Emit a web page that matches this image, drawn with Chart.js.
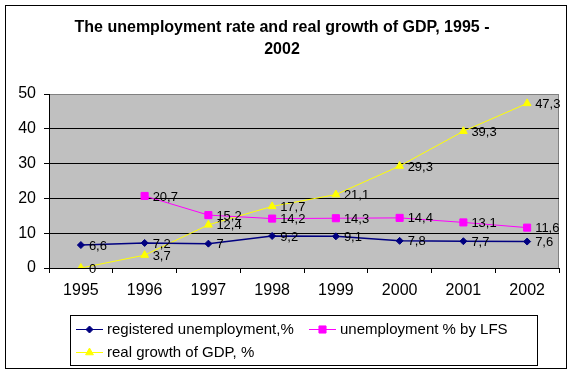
<!DOCTYPE html>
<html>
<head>
<meta charset="utf-8">
<script src="https://cdn.jsdelivr.net/npm/chart.js@4.4.1/dist/chart.umd.min.js"></script>
<style>
  html, body { margin: 0; padding: 0; background: #fff; }
  #wrap { width: 575px; height: 375px; }
</style>
</head>
<body>
<div id="wrap"><canvas id="chart" width="575" height="375"></canvas></div>
<script>
const years = ['1995', '1996', '1997', '1998', '1999', '2000', '2001', '2002'];
const registered = [6.6, 7.2, 7, 9.2, 9.1, 7.8, 7.7, 7.6];
const lfs = [null, 20.7, 15.2, 14.2, 14.3, 14.4, 13.1, 11.6];
const gdp = [0, 3.7, 12.4, 17.7, 21.1, 29.3, 39.3, 47.3];
const seriesNames = ['registered unemployment,%', 'unemployment % by LFS', 'real growth of GDP, %'];
const titleLines = ['The unemployment rate and real growth of GDP, 1995 -', '2002'];

const FONT = 'Arial, "Liberation Sans", sans-serif';
Chart.defaults.font.family = FONT;
Chart.defaults.color = '#000';

// grey plot area + outer frame, Excel style
const framePlugin = {
  id: 'frame',
  beforeDraw(chart) {
    const { ctx, chartArea: a } = chart;
    ctx.save();
    ctx.fillStyle = '#fff';
    ctx.fillRect(0, 0, chart.width, chart.height);
    ctx.strokeStyle = '#000';
    ctx.lineWidth = 1;
    ctx.strokeRect(5.5, 5.5, 561, 363);
    ctx.fillStyle = '#c0c0c0';
    ctx.fillRect(a.left, a.top, a.right - a.left, a.bottom - a.top);
    ctx.strokeStyle = '#808080';
    ctx.strokeRect(a.left + 0.5, a.top + 0.5, a.right - a.left - 1, a.bottom - a.top);
    ctx.restore();
  }
};

// value labels to the right of each point, comma decimals
const valueLabels = {
  id: 'valueLabels',
  afterDatasetsDraw(chart) {
    const ctx = chart.ctx;
    ctx.save();
    ctx.font = '13px ' + FONT;
    ctx.fillStyle = '#000';
    ctx.textAlign = 'left';
    ctx.textBaseline = 'middle';
    chart.data.datasets.forEach((ds, i) => {
      const meta = chart.getDatasetMeta(i);
      meta.data.forEach((pt, j) => {
        const v = ds.data[j];
        if (v === null || v === undefined) return;
        ctx.fillText(String(v).replace('.', ','), pt.x + 8, pt.y + 1);
      });
    });
    ctx.restore();
  }
};

// boxed legend under the axis: two items on row one, one on row two
const legendBox = {
  id: 'legendBox',
  afterDraw(chart) {
    const ctx = chart.ctx;
    const slots = [[76, 329], [309, 329], [76, 352]];
    ctx.save();
    ctx.strokeStyle = '#000';
    ctx.lineWidth = 1;
    ctx.strokeRect(70.5, 315.5, 467, 50);
    ctx.font = '15px ' + FONT;
    ctx.textBaseline = 'middle';
    chart.data.datasets.forEach((ds, i) => {
      const [x, y] = slots[i];
      ctx.strokeStyle = ds.borderColor;
      ctx.fillStyle = ds.backgroundColor;
      ctx.lineWidth = 1;
      ctx.beginPath();
      ctx.moveTo(x, y + 0.5);
      ctx.lineTo(x + 27, y + 0.5);
      ctx.stroke();
      Chart.helpers.drawPoint(ctx, {
        pointStyle: ds.pointStyle,
        radius: ds.pointRadius,
        rotation: 0,
        borderWidth: 1
      }, x + 13.5, y + 0.5);
      ctx.fillStyle = '#000';
      ctx.fillText(ds.label, x + 31, y + 1);
    });
    ctx.restore();
  }
};

const chart = new Chart(document.getElementById('chart'), {
  type: 'line',
  data: {
    labels: years,
    datasets: [
      {
        label: seriesNames[0],
        data: registered,
        borderColor: '#000080',
        backgroundColor: '#000080',
        borderWidth: 1.5,
        pointStyle: 'rectRot',
        pointRadius: 3.5,
        pointBorderWidth: 1
      },
      {
        label: seriesNames[1],
        data: lfs,
        borderColor: '#ff00ff',
        backgroundColor: '#ff00ff',
        borderWidth: 1,
        pointStyle: 'rect',
        pointRadius: 5,
        pointBorderWidth: 1
      },
      {
        label: seriesNames[2],
        data: gdp,
        borderColor: '#ffff00',
        backgroundColor: '#ffff00',
        borderWidth: 1,
        pointStyle: 'triangle',
        pointRadius: 4.5,
        pointBorderWidth: 1
      }
    ]
  },
  options: {
    responsive: false,
    animation: false,
    events: [],
    layout: { padding: { left: 5, right: 16, top: 5, bottom: 0 } },
    plugins: {
      legend: { display: false },
      tooltip: { enabled: false },
      title: {
        display: true,
        text: titleLines,
        color: '#000',
        font: { size: 16, weight: 'bold', lineHeight: 1.375 },
        padding: { top: 12, bottom: 33 }
      }
    },
    scales: {
      x: {
        offset: true,
        grid: {
          offset: true,
          drawOnChartArea: false,
          drawTicks: true,
          tickLength: 5,
          color: '#000'
        },
        border: { color: '#000', width: 1 },
        ticks: { font: { size: 16 }, padding: 8, maxRotation: 0, color: '#000' },
        afterFit: s => { s.height = 107; }
      },
      y: {
        min: 0,
        max: 50,
        ticks: { stepSize: 10, font: { size: 16 }, padding: 8, color: '#000' },
        grid: {
          color: c => (c.tick && c.tick.value === 50 ? '#808080' : '#000'),
          tickColor: '#000',
          tickLength: 5
        },
        border: { color: '#000', width: 1 },
        afterFit: s => { s.width = 44; }
      }
    }
  },
  plugins: [framePlugin, valueLabels, legendBox]
});
</script>
</body>
</html>
